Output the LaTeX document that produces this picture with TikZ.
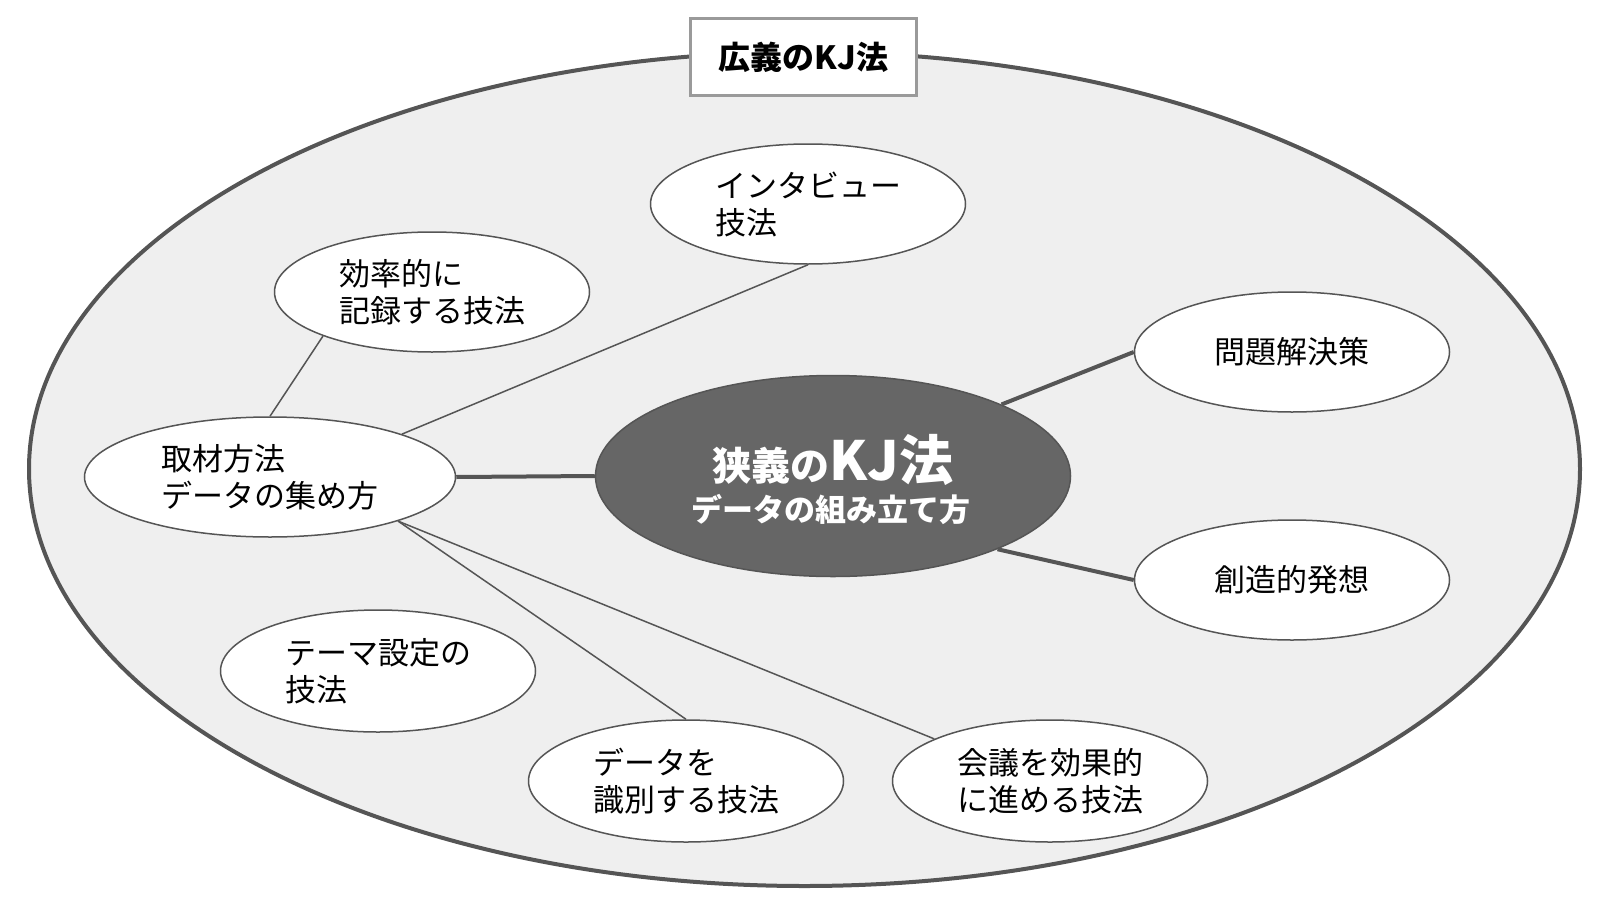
\documentclass[tikz,border=0pt]{standalone}
\usepackage{fontspec}
\setmainfont{Noto Sans CJK JP}
\usetikzlibrary{shapes.geometric}
\definecolor{bgfill}{HTML}{EFEFEF}
\definecolor{linegray}{HTML}{555555}
\definecolor{corefill}{HTML}{666666}
\definecolor{boxgray}{HTML}{9A9A9A}
\begin{document}
\begin{tikzpicture}[x=1pt,y=-1pt,
  leaf/.style={ellipse, draw=linegray, line width=1.5pt, fill=white,
    minimum width=315pt, minimum height=120pt, inner sep=0pt, align=left,
    font=\fontsize{31}{37}\selectfont},
  thinlink/.style={draw=linegray, line width=1.5pt},
  thicklink/.style={draw=linegray, line width=4pt},
]
\useasboundingbox (0,0) rectangle (1600,899);
\node[ellipse, draw=linegray, line width=4pt, fill=bgfill, minimum width=1551pt,
  minimum height=834pt, inner sep=0pt] (outer) at (804.5,469) {};
\node[draw=boxgray, line width=3pt, fill=white, minimum width=226pt, minimum height=77pt,
  font=\bfseries\fontsize{32}{38}\selectfont] (title) at (803.5,57) {広義のKJ法};

\node[leaf] (interview) at (808,204) {インタビュー\\技法};
\node[leaf] (kiroku) at (432,292) {効率的に\\記録する技法};
\node[leaf, minimum width=371pt] (shuzai) at (270,477) {取材方法\\データの集め方};
\node[leaf] (mondai) at (1292,352) {問題解決策};
\node[leaf] (sozo) at (1292,580) {創造的発想};
\node[leaf, minimum height=122pt] (theme) at (378,671) {テーマ設定の\\技法};
\node[leaf, minimum height=122pt] (shikibetsu) at (686,781) {データを\\識別する技法};
\node[leaf, minimum height=122pt] (kaigi) at (1050,781) {会議を効果的\\に進める技法};

\node[ellipse, draw=linegray, line width=1.5pt, fill=corefill, minimum width=475pt,
  minimum height=201pt, inner sep=0pt] (core) at (833,476) {};
\node[text=white, font=\bfseries, anchor=base, inner sep=0pt] (coreA) at (833,480)
  {{\fontsize{39}{41}\selectfont 狭義の}{\fontsize{54}{56}\selectfont KJ法}};
\node[text=white, anchor=base, inner sep=0pt, font=\bfseries\fontsize{31}{37}\selectfont]
  (coreB) at (831,521) {データの組み立て方};

\draw[thicklink] (shuzai.east) -- (core.west);
\draw[thicklink] (core.23) -- (mondai.west);
\draw[thicklink] (core.-24) -- (sozo.west);
\draw[thinlink] (shuzai.north) -- (kiroku.202);
\draw[thinlink] (shuzai.18) -- (interview.south);
\draw[thinlink] (shuzai.-19) -- (shikibetsu.north);
\draw[thinlink] (shuzai.-19) -- (kaigi.160);
\end{tikzpicture}
\end{document}
